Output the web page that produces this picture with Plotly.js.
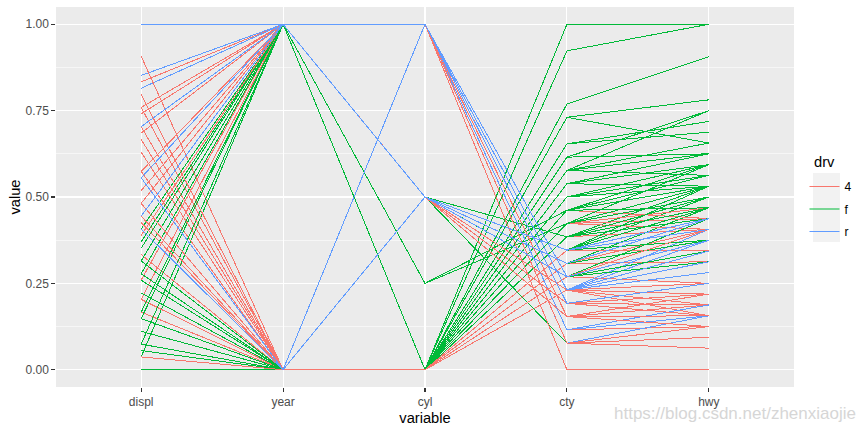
<!DOCTYPE html>
<html>
<head>
<meta charset="utf-8">
<script src="https://cdn.plot.ly/plotly-3.0.1.min.js"></script>
<style>
html,body{margin:0;padding:0;background:#fff;}
#chart{width:868px;height:432px;}
#chart .scatterlayer .js-line{shape-rendering:crispEdges !important;}
</style>
</head>
<body>
<div id="chart"></div>
<script>
// mpg data (rows in dataset order)
const variables = ["displ", "year", "cyl", "cty", "hwy"];
const displ = [1.8,1.8,2.0,2.0,2.8,2.8,3.1, 1.8,1.8,2.0,2.0,2.8,2.8,3.1,3.1, 2.8,3.1,4.2, 5.3,5.3,5.3,5.7,6.0, 5.7,5.7,6.2,6.2,7.0, 5.3,5.3,5.7,6.5, 2.4,2.4,3.1,3.5,3.6, 2.4,3.0,3.3,3.3,3.3,3.3,3.3,3.8,3.8,3.8,4.0, 3.7,3.7,3.9,3.9,4.7,4.7,4.7,5.2,5.2, 3.9,4.7,4.7,4.7,5.2,5.7,5.9, 4.7,4.7,4.7,4.7,4.7,4.7,5.2,5.2,5.7,5.9, 4.6,5.4,5.4, 4.0,4.0,4.0,4.0,4.6,5.0, 4.2,4.2,4.6,4.6,4.6,5.4,5.4, 3.8,3.8,4.0,4.0,4.6,4.6,4.6,4.6,5.4, 1.6,1.6,1.6,1.6,1.6,1.8,1.8,1.8,2.0, 2.4,2.4,2.4,2.4,2.5,2.5,3.3, 2.0,2.0,2.0,2.0,2.7,2.7,2.7, 3.0,3.7,4.0,4.7,4.7,4.7,5.7,6.1, 4.0,4.2,4.4,4.6, 5.4,5.4,5.4, 4.0,4.0,4.6,5.0, 2.4,2.4,2.5,2.5,3.5,3.5, 3.0,3.0,3.5, 3.3,3.3,4.0,5.6, 3.1,3.8,3.8,3.8,5.3, 2.5,2.5,2.5,2.5,2.5,2.5, 2.2,2.2,2.5,2.5,2.5,2.5,2.5,2.5, 2.7,2.7,3.4,3.4,4.0,4.7, 2.2,2.2,2.4,2.4,3.0,3.0,3.5, 2.2,2.2,2.4,2.4,3.0,3.0,3.3, 1.8,1.8,1.8,1.8,1.8, 4.7,5.7, 2.7,2.7,2.7,3.4,3.4,4.0,4.0, 2.0,2.0,2.0,2.0,2.8, 1.9,2.0,2.0,2.0,2.0,2.5,2.5,2.8,2.8, 1.9,1.9,2.0,2.0,2.5,2.5, 1.8,1.8,2.0,2.0,2.8,2.8,3.6];
const year = [1999,1999,2008,2008,1999,1999,2008, 1999,1999,2008,2008,1999,1999,2008,2008, 1999,2008,2008, 2008,2008,2008,1999,2008, 1999,1999,2008,2008,2008, 2008,2008,1999,1999, 1999,2008,1999,2008,2008, 1999,1999,1999,1999,2008,2008,2008,1999,1999,2008,2008, 2008,2008,1999,1999,2008,2008,2008,1999,1999, 1999,2008,2008,2008,1999,2008,1999, 2008,2008,2008,2008,2008,2008,1999,1999,2008,1999, 1999,1999,2008, 1999,1999,1999,2008,2008,1999, 1999,1999,1999,1999,2008,1999,2008, 1999,1999,2008,2008,1999,1999,2008,2008,2008, 1999,1999,1999,1999,1999,2008,2008,2008,2008, 1999,1999,2008,2008,1999,1999,2008, 1999,1999,2008,2008,2008,2008,2008, 2008,2008,1999,1999,2008,2008,2008,2008, 1999,2008,2008,1999, 1999,1999,2008, 1999,2008,2008,1999, 1999,1999,2008,2008,2008,2008, 1999,1999,2008, 1999,1999,2008,2008, 1999,1999,1999,2008,2008, 1999,1999,2008,2008,2008,2008, 1999,1999,1999,1999,2008,2008,2008,2008, 1999,1999,1999,1999,2008,2008, 1999,1999,2008,2008,1999,1999,2008, 1999,1999,2008,2008,1999,1999,2008, 1999,1999,1999,2008,2008, 1999,2008, 1999,1999,2008,1999,1999,2008,2008, 1999,1999,2008,2008,1999, 1999,1999,1999,2008,2008,2008,2008,1999,1999, 1999,1999,1999,1999,2008,2008, 1999,1999,2008,2008,1999,1999,2008];
const cyl = [4,4,4,4,6,6,6, 4,4,4,4,6,6,6,6, 6,6,8, 8,8,8,8,8, 8,8,8,8,8, 8,8,8,8, 4,4,6,6,6, 4,6,6,6,6,6,6,6,6,6,6, 6,6,6,6,8,8,8,8,8, 6,8,8,8,8,8,8, 8,8,8,8,8,8,8,8,8,8, 8,8,8, 6,6,6,6,8,8, 6,6,8,8,8,8,8, 6,6,6,6,8,8,8,8,8, 4,4,4,4,4,4,4,4,4, 4,4,4,4,6,6,6, 4,4,4,4,6,6,6, 6,6,6,8,8,8,8,8, 8,8,8,8, 8,8,8, 6,6,8,8, 4,4,4,4,6,6, 6,6,6, 6,6,6,8, 6,6,6,6,8, 4,4,4,4,4,4, 4,4,4,4,4,4,4,4, 4,4,6,6,6,8, 4,4,4,4,6,6,6, 4,4,4,4,6,6,6, 4,4,4,4,4, 8,8, 4,4,4,6,6,6,6, 4,4,4,4,6, 4,4,4,4,4,5,5,6,6, 4,4,4,4,5,5, 4,4,4,4,6,6,6];
const cty = [18,21,20,21,16,18,18, 18,16,20,19,15,17,17,15, 15,17,16, 14,11,14,13,12, 16,15,16,15,15, 14,11,11,14, 19,22,18,18,17, 18,17,16,16,17,17,11,15,15,16,16, 15,14,13,14,14,14,9,11,11, 13,13,9,13,11,13,11, 12,9,13,13,12,9,11,11,13,11, 11,11,12, 14,15,14,13,13,13, 14,14,13,13,13,11,13, 18,18,17,16,15,15,15,15,14, 28,24,25,23,24,26,25,24,21, 18,18,21,21,18,18,19, 19,19,20,20,17,16,17, 17,15,15,14,9,14,13,11, 11,12,12,11, 11,11,12, 14,13,13,13, 21,19,23,23,19,19, 18,19,19, 14,15,14,12, 18,16,17,18,16, 18,18,20,19,20,18, 21,19,19,19,20,20,19,20, 15,16,15,15,16,14, 21,21,21,21,18,18,19, 21,21,21,22,18,18,18, 24,24,26,28,26, 11,13, 15,16,17,15,15,15,16, 21,19,22,21,17, 33,21,19,22,21,21,21,16,17, 35,29,21,19,20,20, 21,18,19,21,16,18,17];
const hwy = [29,29,31,30,26,26,27, 26,25,28,27,25,25,25,25, 24,25,23, 20,15,20,17,17, 26,23,26,25,24, 19,14,15,17, 27,30,26,29,26, 24,24,22,22,24,24,17,22,21,23,23, 19,18,17,17,19,19,12,17,15, 17,17,12,17,16,18,15, 16,12,17,17,16,12,15,16,17,15, 17,17,18, 17,19,17,19,19,17, 17,17,16,16,17,15,17, 26,25,26,24,21,22,23,22,20, 33,32,32,29,32,34,36,36,29, 26,27,30,31,26,26,28, 26,29,28,27,24,24,24, 22,19,20,17,12,19,18,14, 15,18,18,15, 17,16,18, 17,19,19,17, 29,27,31,32,27,26, 26,25,25, 17,17,20,18, 26,26,27,28,25, 25,24,27,25,26,23, 26,26,26,26,27,25,25,27, 20,20,19,17,20,17, 29,27,31,31,26,26,28, 27,29,31,31,26,26,27, 30,33,35,37,35, 15,18, 20,20,22,17,19,18,20, 29,26,29,29,24, 44,29,26,29,29,29,29,23,24, 44,41,29,26,28,29, 29,29,28,29,26,26,26];
const drv = [].concat(
  Array(7).fill("f"), Array(8).fill("4"), Array(3).fill("4"), Array(5).fill("r"), Array(5).fill("r"),
  Array(4).fill("4"), Array(5).fill("f"), Array(11).fill("f"), Array(9).fill("4"), Array(7).fill("4"),
  Array(10).fill("4"), Array(3).fill("r"), Array(6).fill("4"), Array(7).fill("4"), Array(9).fill("r"),
  Array(9).fill("f"), Array(7).fill("f"), Array(7).fill("f"), Array(8).fill("4"), Array(4).fill("4"),
  Array(3).fill("r"), Array(4).fill("4"), Array(6).fill("f"), Array(3).fill("f"), Array(4).fill("4"),
  Array(5).fill("f"), Array(6).fill("4"), Array(8).fill("4"), Array(6).fill("4"), Array(7).fill("f"),
  Array(7).fill("f"), Array(5).fill("f"), Array(2).fill("4"), Array(7).fill("4"), Array(5).fill("f"),
  Array(9).fill("f"), Array(6).fill("f"), Array(7).fill("f"));
const groups = ["4", "f", "r"];
const groupColors = ["#F8766D", "#00BA38", "#619CFF"];
const yTicks = [0, 0.25, 0.5, 0.75, 1];

// uniminmax scaling (as ggparcoord)
function scale01(arr) {
  const mn = Math.min(...arr), mx = Math.max(...arr);
  return arr.map(v => (v - mn) / (mx - mn));
}
const cols = [displ, year, cyl, cty, hwy].map(scale01);

// ggplot draws the line groups in the (string) order of the row ids
const ids = drv.map((_, i) => i);
ids.sort((a, b) => { const sa = String(a + 1), sb = String(b + 1); return sa < sb ? -1 : sa > sb ? 1 : 0; });

const traces = ids.map(i => {
  const gi = groups.indexOf(drv[i]);
  return {
    type: "scatter", mode: "lines", name: drv[i], legendgroup: drv[i], showlegend: false,
    x: variables, y: variables.map((_, j) => cols[j][i]),
    line: {color: groupColors[gi], width: 1}, hoverinfo: "skip"
  };
});
// legend entries (one per drv level)
groups.forEach((g, gi) => traces.push({
  type: "scatter", mode: "lines", name: g, legendgroup: g, showlegend: true, legendrank: gi + 1,
  x: [null], y: [null], line: {color: groupColors[gi], width: 1.07}, hoverinfo: "skip"
}));

const FONT = "Liberation Sans, Arial, sans-serif";
const L = 56, T = 7, PW = 738, PH = 380;
const px = x => (x - L) / PW, py = y => (T + PH - y) / PH;

const layout = {
  width: 868, height: 432,
  margin: {l: L, r: 868 - L - PW, t: T, b: 432 - T - PH},
  paper_bgcolor: "#FFFFFF", plot_bgcolor: "#EBEBEB",
  font: {family: FONT, color: "#4D4D4D", size: 12},
  showlegend: true,
  legend: {
    x: px(804.5), xanchor: "left", y: py(172), yanchor: "top",
    bgcolor: "rgba(0,0,0,0)", borderwidth: 0,
    font: {size: 12, color: "#000000", family: FONT},
    itemwidth: 30, tracegroupgap: 3.5, traceorder: "grouped"
  },
  xaxis: {
    type: "category", categoryorder: "array", categoryarray: variables,
    range: [-0.6, 4.6], showgrid: true, gridcolor: "#FFFFFF", gridwidth: 1.07,
    zeroline: false, showline: false,
    ticks: "outside", ticklen: 3.65, tickwidth: 1.07, tickcolor: "#333333",
    tickfont: {size: 12, color: "#4D4D4D", family: FONT},
    title: {text: "variable", font: {size: 14.7, color: "#000000", family: FONT}, standoff: 4}
  },
  yaxis: {
    range: [-0.05, 1.05], tickvals: yTicks, tickformat: ".2f",
    showgrid: true, gridcolor: "#FFFFFF", gridwidth: 1.07,
    minor: {dtick: 0.25, tick0: 0.125, showgrid: true, gridcolor: "#FFFFFF", gridwidth: 0.53, ticks: ""},
    zeroline: false, showline: false,
    ticks: "outside", ticklen: 3.65, tickwidth: 1.07, tickcolor: "#333333",
    tickfont: {size: 12, color: "#4D4D4D", family: FONT},
    title: {text: "value", font: {size: 14.7, color: "#000000", family: FONT}, standoff: 1}
  },
  shapes: [{
    type: "rect", xref: "paper", yref: "paper", layer: "below",
    x0: px(813), x1: px(840), y0: py(173), y1: py(242),
    fillcolor: "#F2F2F2", line: {width: 0}
  }],
  annotations: [
    {text: "drv", xref: "paper", yref: "paper", x: px(811.5), y: py(162),
     xanchor: "left", yanchor: "middle", showarrow: false,
     font: {size: 14.7, color: "#000000", family: FONT}},
    {text: "https://blog.csdn.net/zhenxiaojie", xref: "paper", yref: "paper",
     x: px(858), y: py(414), xanchor: "right", yanchor: "middle", showarrow: false,
     font: {size: 17, color: "#D6D6D6", family: FONT}}
  ]
};

Plotly.newPlot("chart", traces, layout, {staticPlot: true, displayModeBar: false});
</script>
</body>
</html>
